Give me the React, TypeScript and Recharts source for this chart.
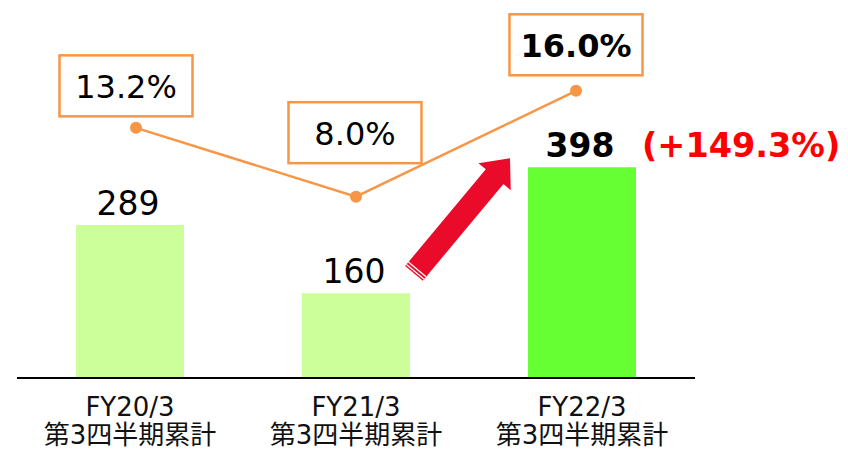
import React from 'react';
import { Bar, Cell, ComposedChart, LabelList, Line, XAxis, YAxis } from 'recharts';

const CATEGORIES = ['FY20/3', 'FY21/3', 'FY22/3'];
const PERIOD_LABEL = '第3四半期累計';
const SALES = [289, 160, 398];
const MARGIN_PCT = [13.2, 8.0, 16.0];
const MARGIN_LABELS = ['13.2%', '8.0%', '16.0%'];
const GROWTH_LABEL = '(+149.3%)';

const BAR_COLORS = ['#ccff99', '#ccff99', '#66ff33'];
const ORANGE = '#f79646';
const ARROW_RED = '#ea0a2a';
const FONT = "'DejaVu Sans', 'Noto Sans CJK JP', sans-serif";
const LATEST = 2;
// box offsets from each line point
const BOX_SHIFT = [
  { dx: -10, dy: -42 },
  { dx: -1, dy: -64 },
  { dx: 0, dy: -46 },
];

const data = CATEGORIES.map((name, i) => ({
  name,
  sales: SALES[i],
  margin: MARGIN_PCT[i],
}));

function CategoryTick(props: any) {
  const { x, y, payload } = props;
  return (
    <g>
      <text x={x} y={y + 30} textAnchor="middle" fontSize={26} fill="#111" fontFamily={FONT}>
        {payload.value}
      </text>
      <text x={x} y={y + 58} textAnchor="middle" fontSize={26} fill="#111" fontFamily={FONT}>
        {PERIOD_LABEL}
      </text>
    </g>
  );
}

function GrowthArrow({ x, y }: { x: number; y: number }) {
  // tail point -> tip point
  const tx = x;
  const ty = y;
  const ex = x + 96;
  const ey = y - 115;
  const len = Math.hypot(ex - tx, ey - ty);
  const ang = (Math.atan2(ey - ty, ex - tx) * 180) / Math.PI;
  const head = 24;
  const sw = 11.5;
  const hw = 21;
  return (
    <g transform={`translate(${tx},${ty}) rotate(${ang})`}>
      <polygon
        points={`0,${-sw} ${len - head},${-sw} ${len - head},${-hw} ${len},0 ${len - head},${hw} ${len - head},${sw} 0,${sw}`}
        fill={ARROW_RED}
      />
      <line x1={2} y1={-sw} x2={2} y2={sw} stroke="#fff" strokeWidth={1.3} />
      <line x1={5} y1={-sw} x2={5} y2={sw} stroke="#fff" strokeWidth={1.3} />
    </g>
  );
}

function renderBarLabel(props: any) {
  const { x, y, width, index, value } = props;
  const cx = x + width / 2 - 2;
  const bold = index === LATEST;
  return (
    <g>
      <text
        x={cx}
        y={y - 10}
        textAnchor="middle"
        fontSize={33}
        fontWeight={bold ? 'bold' : 'normal'}
        fill="#000"
        fontFamily={FONT}
      >
        {value}
      </text>
      {bold && (
        <text x={cx + 62} y={y - 10} fontSize={33.5} fontWeight="bold" fill="#ff0000" fontFamily={FONT}>
          {GROWTH_LABEL}
        </text>
      )}
      {index === 1 && <GrowthArrow x={x + width + 4} y={y - 20} />}
    </g>
  );
}

function renderMarginBox(props: any) {
  const { x, y, index } = props;
  const s = BOX_SHIFT[index] || { dx: 0, dy: -45 };
  const cx = x + s.dx;
  const cy = y + s.dy;
  return (
    <g>
      <rect x={cx - 66.5} y={cy - 30.5} width={133} height={61} fill="#fff" stroke={ORANGE} strokeWidth={2.5} />
      <text
        x={cx}
        y={cy + 12}
        textAnchor="middle"
        fontSize={32}
        fontWeight={index === LATEST ? 'bold' : 'normal'}
        fill="#000"
        fontFamily={FONT}
      >
        {MARGIN_LABELS[index]}
      </text>
    </g>
  );
}

export default function App() {
  return (
    <div style={{ position: 'absolute', left: 0, top: 0, background: '#fff' }}>
      <ComposedChart
        width={848}
        height={449}
        data={data}
        margin={{ top: 18, right: 153, bottom: 1, left: 17 }}
      >
        <XAxis
          dataKey="name"
          xAxisId="bars"
          height={70}
          axisLine={{ stroke: '#000', strokeWidth: 2 }}
          tickLine={false}
          tick={<CategoryTick />}
          interval={0}
        />
        <XAxis dataKey="name" xAxisId="line" hide padding={{ left: 9, right: 9 }} />
        <YAxis yAxisId="sales" hide domain={[0, 680]} />
        <YAxis yAxisId="margin" hide orientation="right" domain={[-5.7, 21.5]} />
        <Bar dataKey="sales" xAxisId="bars" yAxisId="sales" barSize={108} isAnimationActive={false}>
          {data.map((d, i) => (
            <Cell key={d.name} fill={BAR_COLORS[i]} />
          ))}
          <LabelList dataKey="sales" content={renderBarLabel} />
        </Bar>
        <Line
          dataKey="margin"
          xAxisId="line"
          yAxisId="margin"
          stroke={ORANGE}
          strokeWidth={2.5}
          dot={{ r: 6, fill: ORANGE, stroke: ORANGE, strokeWidth: 0 }}
          isAnimationActive={false}
        >
          <LabelList dataKey="margin" content={renderMarginBox} />
        </Line>
      </ComposedChart>
    </div>
  );
}
